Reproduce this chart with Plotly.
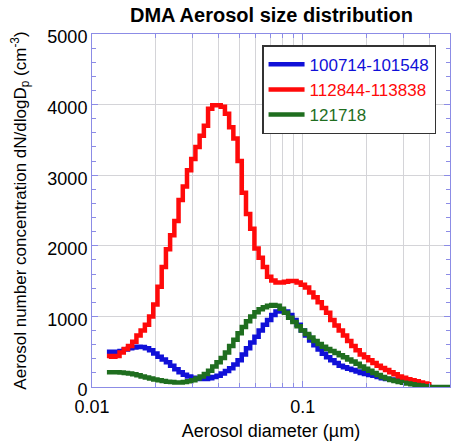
import plotly.graph_objects as go

# Bin diameters (µm)
diameters = [0.01177, 0.01232, 0.01291, 0.01351, 0.01415, 0.01482, 0.01552, 0.01625, 0.01701, 0.01782,
             0.01866, 0.01953, 0.02045, 0.02142, 0.02243, 0.02348, 0.02459, 0.02575, 0.02697, 0.02824,
             0.02957, 0.03096, 0.03242, 0.03395, 0.03555, 0.03722, 0.03898, 0.04081, 0.04274, 0.04475,
             0.04686, 0.04907, 0.05138, 0.05380, 0.05634, 0.05899, 0.06177, 0.06468, 0.06773, 0.07093,
             0.07427, 0.07777, 0.08143, 0.08527, 0.08929, 0.09349, 0.09790, 0.1025, 0.1073, 0.1124,
             0.1177, 0.1232, 0.1291, 0.1351, 0.1415, 0.1482, 0.1552, 0.1625, 0.1701, 0.1782,
             0.1865, 0.1953, 0.2045, 0.2142, 0.2243, 0.2348, 0.2459, 0.2575, 0.2697, 0.2824,
             0.2957, 0.3096, 0.3242, 0.3395, 0.3555, 0.3722, 0.3898, 0.4081, 0.4274, 0.4475,
             0.4686, 0.5]

series_names = ["100714-101548", "112844-113838", "121718"]
series_colors = ["#1010d8", "#ff0a0a", "#1f6e1f"]

blue_vals = [500, 500, 500, 510, 530, 550, 560, 570, 565, 550,
             520, 475, 430, 390, 350, 300, 250, 210, 175, 150,
             130, 120, 115, 115, 125, 140, 160, 190, 225, 265,
             320, 380, 460, 550, 630, 710, 800, 880, 950, 1020,
             1070, 1090, 1070, 1020, 950, 880, 800, 730, 660, 590,
             530, 470, 420, 380, 340, 300, 280, 260, 240, 220,
             200, 185, 170, 160, 140, 125, 115, 105, 95, 85,
             75, 65, 55, 45, 35, 25, 15]

red_vals = [440, 430, 440, 490, 540, 580, 640, 730, 800, 880,
            1000, 1170, 1420, 1700, 1950, 2150, 2350, 2650, 2840, 3070,
            3230, 3400, 3560, 3700, 3940, 3990, 3990, 3970, 3870, 3680,
            3520, 3200, 2750, 2450, 2240, 1960, 1830, 1700, 1560, 1510,
            1480, 1480, 1490, 1500, 1500, 1480, 1450, 1410, 1340, 1270,
            1200, 1120, 1050, 950, 870, 800, 730, 650, 580, 520,
            460, 420, 380, 340, 300, 270, 240, 210, 180, 150,
            130, 110, 95, 80, 65, 50, 40]

green_vals = [210, 210, 210, 205, 200, 190, 180, 165, 150, 135,
              120, 105, 95, 85, 75, 70, 65, 65, 70, 80,
              95, 120, 150, 185, 230, 290, 350, 410, 490, 580,
              670, 760, 850, 930, 1000, 1060, 1100, 1130, 1150, 1160,
              1150, 1110, 1050, 980, 920, 860, 800, 750, 700, 650,
              610, 570, 540, 510, 480, 450, 420, 390, 360, 330,
              290, 260, 230, 200, 170, 140, 120, 100, 85, 70,
              60, 50, 40, 30, 20, 10, 0, 0, 0, 0,
              0]

x_tick_vals = [0.01, 0.1, 0.5]
x_tick_text = ["0.01", "0.1", "0.5"]
x_minor_vals = [0.02, 0.03, 0.04, 0.05, 0.06, 0.07, 0.08, 0.09, 0.2, 0.3, 0.4]
y_tick_vals = [0, 1000, 2000, 3000, 4000, 5000]

FONT = "Liberation Sans, Arial, sans-serif"
AXIS_COLOR = "#8c8ce6"
GRID_COLOR = "#d4d4d8"

fig = go.Figure()
for name, color, vals in zip(series_names, series_colors, [blue_vals, red_vals, green_vals]):
    n = len(vals)
    xs = diameters[:n] + [diameters[n]]
    ys = vals + [vals[-1]]
    fig.add_trace(go.Scatter(
        x=xs, y=ys, mode="lines", line_shape="hv",
        line=dict(color=color, width=4.5),
        name=f"<span style='color:{color}'>{name}</span>",
    ))

fig.update_layout(
    width=459, height=445,
    margin=dict(l=92, r=8, t=34, b=55),
    paper_bgcolor="white", plot_bgcolor="white",
    font=dict(family=FONT, size=17, color="black"),
    title=dict(text="<b>DMA Aerosol size distribution</b>", x=(92 + 451) / 2 / 459, xanchor="center",
               y=1 - 15 / 445, yanchor="middle", yref="container",
               font=dict(family=FONT, size=20, color="black")),
    showlegend=True,
    legend=dict(x=0.475, y=0.968, xanchor="left", yanchor="top",
                bgcolor="white", bordercolor="#333333", borderwidth=1.5,
                font=dict(family=FONT, size=17), tracegroupgap=0,
                itemwidth=36),
)

fig.update_xaxes(
    type="log", range=[-2, -0.30103],
    tickmode="array", tickvals=x_tick_vals, ticktext=x_tick_text,
    ticks="inside", ticklen=6, tickcolor=AXIS_COLOR,
    showline=True, linecolor=AXIS_COLOR, linewidth=1, mirror="ticks",
    showgrid=True, gridcolor=GRID_COLOR, gridwidth=1,
    minor=dict(tickmode="array", tickvals=x_minor_vals, ticks="inside", ticklen=4,
               tickcolor=AXIS_COLOR, showgrid=True, gridcolor=GRID_COLOR, gridwidth=1),
    tickfont=dict(size=18), ticklabelstandoff=3,
    title=dict(text="Aerosol diameter (\u00b5m)", font=dict(size=18), standoff=8),
    zeroline=False,
)
fig.update_yaxes(
    range=[0, 5000], tickmode="array", tickvals=y_tick_vals,
    ticks="inside", ticklen=6, tickcolor=AXIS_COLOR,
    showline=True, linecolor=AXIS_COLOR, linewidth=1, mirror="ticks",
    showgrid=True, gridcolor=GRID_COLOR, gridwidth=1,
    minor=dict(dtick=200, ticks="inside", ticklen=4, tickcolor=AXIS_COLOR, showgrid=False),
    tickfont=dict(size=18), ticklabelshift=3,
    title=dict(text="Aerosol number concentration dN/dlogD<sub>p</sub> (cm<sup>-3</sup>)",
               font=dict(size=17), standoff=16),
    zeroline=False,
)

fig.write_html("out.html")
